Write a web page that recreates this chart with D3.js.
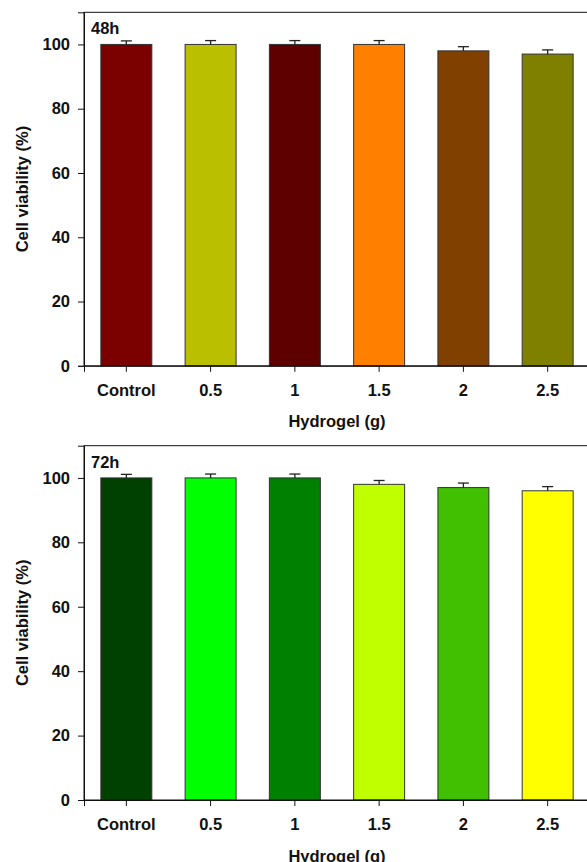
<!DOCTYPE html>
<html>
<head>
<meta charset="utf-8">
<script src="https://cdn.jsdelivr.net/npm/d3@7"></script>
<style>
  body { margin: 0; background: #fff; }
  svg { display: block; }
  text { font-family: "Liberation Sans", Arial, sans-serif; font-weight: bold; fill: #111; }
</style>
</head>
<body>
<div id="viz"></div>
<script>
// data
const categories = ["Control", "0.5", "1", "1.5", "2", "2.5"];
const values48 = [100, 100, 100, 100, 98, 97];
const errors48 = [1.1, 1.2, 1.2, 1.2, 1.3, 1.3];
const colors48 = ["#7b0000", "#bac000", "#5e0000", "#ff8000", "#804000", "#808000"];
const values72 = [100, 100, 100, 98, 97, 96];
const errors72 = [1.1, 1.2, 1.2, 1.2, 1.4, 1.3];
const colors72 = ["#004000", "#00ff00", "#008000", "#bfff00", "#40c000", "#ffff00"];
const yTicks = [0, 20, 40, 60, 80, 100];

const W = 587, H = 862;
const FS = 16.5;
const svg = d3.select("#viz").append("svg").attr("width", W).attr("height", H);

function drawPanel(label, values, errors, colors, top, bottom) {
  const left = 84, right = 590;

  const x = d3.scaleBand().domain(categories).range([left, right]).paddingInner(0.395).paddingOuter(0.2);
  const y = d3.scaleLinear().domain([0, 110]).range([bottom, top]);

  const g = svg.append("g");

  // bars
  g.selectAll("rect.bar")
    .data(values)
    .join("rect")
    .attr("class", "bar")
    .attr("x", (d, i) => x(categories[i]))
    .attr("y", d => y(d))
    .attr("width", x.bandwidth())
    .attr("height", d => y(0) - y(d))
    .attr("fill", (d, i) => colors[i])
    .attr("stroke", "#333")
    .attr("stroke-width", 1);

  // error bars (upper half only)
  const eb = g.selectAll("g.err")
    .data(values)
    .join("g")
    .attr("class", "err")
    .attr("stroke", "#222")
    .attr("stroke-width", 1.3);
  eb.append("line")
    .attr("x1", (d, i) => x(categories[i]) + x.bandwidth() / 2)
    .attr("x2", (d, i) => x(categories[i]) + x.bandwidth() / 2)
    .attr("y1", d => y(d))
    .attr("y2", (d, i) => y(d + errors[i]));
  eb.append("line")
    .attr("x1", (d, i) => x(categories[i]) + x.bandwidth() / 2 - 5.5)
    .attr("x2", (d, i) => x(categories[i]) + x.bandwidth() / 2 + 5.5)
    .attr("y1", (d, i) => y(d + errors[i]))
    .attr("y2", (d, i) => y(d + errors[i]));

  // frame
  g.append("rect")
    .attr("x", left).attr("y", top)
    .attr("width", right - left).attr("height", bottom - top)
    .attr("fill", "none").attr("stroke", "#111").attr("stroke-width", 1);

  // axes
  const yAxis = g.append("g")
    .attr("transform", `translate(${left},0)`)
    .call(d3.axisLeft(y).tickValues(yTicks).tickSize(6).tickPadding(8));
  const xAxis = g.append("g")
    .attr("transform", `translate(0,${bottom})`)
    .call(d3.axisBottom(x).tickSize(6).tickPadding(12));
  [yAxis, xAxis].forEach(a => {
    a.select(".domain").attr("stroke", "#111");
    a.selectAll(".tick line").attr("stroke", "#111");
    a.selectAll(".tick text")
      .attr("font-family", "Liberation Sans, Arial, sans-serif")
      .attr("font-weight", "bold")
      .attr("font-size", FS)
      .attr("fill", "#111");
  });

  g.append("text")
    .attr("x", left + 7).attr("y", top + 22)
    .attr("font-size", FS)
    .text(label);

  g.append("text")
    .attr("transform", `translate(28,${(top + bottom) / 2}) rotate(-90)`)
    .attr("text-anchor", "middle")
    .attr("font-size", FS)
    .text("Cell viability (%)");

  g.append("text")
    .attr("x", (left + right) / 2).attr("y", bottom + 61.5)
    .attr("text-anchor", "middle")
    .attr("font-size", FS)
    .text("Hydrogel (g)");
}

drawPanel("48h", values48, errors48, colors48, 12.3, 365.8);
drawPanel("72h", values72, errors72, colors72, 445.7, 800);
</script>
</body>
</html>
